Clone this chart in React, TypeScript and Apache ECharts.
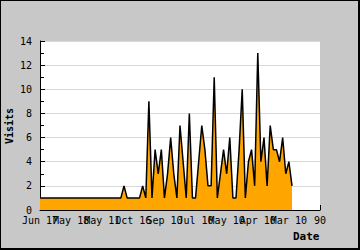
import React, { useEffect, useRef } from "react";
import * as echarts from "echarts";

const dateLabels = ["Jun 17", "May 18", "May 11", "Oct 16", "Sep 10", "Jul 10", "May 10", "Apr 10", "Mar 10", "90"];

const visits = [
  1, 1, 1, 1, 1, 1, 1, 1, 1, 1,
  1, 1, 1, 1, 1, 1, 1, 1, 1, 1,
  1, 1, 1, 1, 1, 1, 1, 2, 1, 1,
  1, 1, 1, 2, 1, 9, 1, 5, 3, 5,
  1, 3, 6, 3, 1, 7, 4, 1, 8, 1,
  1, 4, 7, 5, 2, 2, 11, 1, 3, 5,
  3, 6, 1, 1, 5, 10, 1, 4, 5, 2,
  13, 4, 6, 2, 7, 5, 5, 4, 6, 3,
  4, 2,
];

const yTitle = "Visits";
const xTitle = "Date";

const FONT = '"DejaVu Sans Mono", monospace';

export default function App() {
  const ref = useRef<HTMLDivElement>(null);
  useEffect(() => {
    document.body.style.margin = "0";
    if (!ref.current) return;
    const chart = echarts.init(ref.current, null, { renderer: "svg" });
    chart.setOption({
      animation: false,
      backgroundColor: "#c8c8c8",
      textStyle: { fontFamily: FONT },
      grid: { left: 40, right: 40, top: 41, bottom: 40, show: true, backgroundColor: "#fff", borderWidth: 0 },
      xAxis: [
        {
          type: "value",
          min: 0,
          max: 90,
          interval: 10,
          show: false,
          position: "bottom",
        },
        {
          type: "category",
          data: dateLabels,
          boundaryGap: false,
          position: "bottom",
          axisLine: { show: true, lineStyle: { color: "#000", width: 1 } },
          axisTick: { show: true, inside: true, length: 5, interval: 0, lineStyle: { color: "#000" } },
          axisLabel: {
            interval: 0,
            color: "#000",
            fontSize: 10,
            fontFamily: FONT,
            margin: 5,
            hideOverlap: false,
          },
          splitLine: { show: false },
        },
      ],
      yAxis: {
        type: "value",
        min: 0,
        max: 14,
        interval: 2,
        axisLine: { show: true, lineStyle: { color: "#000", width: 1 } },
        axisTick: { show: true, inside: true, length: 5, lineStyle: { color: "#000" } },
        minorTick: { show: true, splitNumber: 2, length: 4, lineStyle: { color: "#000" } },
        axisLabel: { color: "#000", fontSize: 10, fontFamily: FONT, margin: 8 },
        splitLine: { show: true, lineStyle: { color: "#d9d9d9", width: 1 } },
      },
      series: [
        {
          type: "line",
          xAxisIndex: 0,
          data: visits.map((v, i) => [i, v]),
          symbol: "none",
          lineStyle: { color: "#000", width: 1.5 },
          areaStyle: { color: "#ffa500", opacity: 1 },
        },
      ],
      graphic: [
        {
          type: "rect",
          silent: true,
          z: 100,
          shape: { x: 0, y: 0, width: 359, height: 249 },
          style: { fill: "none", stroke: "#000", lineWidth: 2 },
        },
        {
          type: "text",
          x: 9,
          y: 126,
          rotation: Math.PI / 2,
          style: {
            text: yTitle,
            font: `bold 10px ${FONT}`,
            fill: "#000",
            align: "center",
            verticalAlign: "middle",
          },
        },
        {
          type: "text",
          x: 319.5,
          y: 236,
          style: {
            text: xTitle,
            font: `bold 11px ${FONT}`,
            fill: "#000",
            align: "right",
            verticalAlign: "middle",
          },
        },
      ],
    });
    return () => chart.dispose();
  }, []);
  return <div ref={ref} style={{ width: 360, height: 250 }} />;
}
